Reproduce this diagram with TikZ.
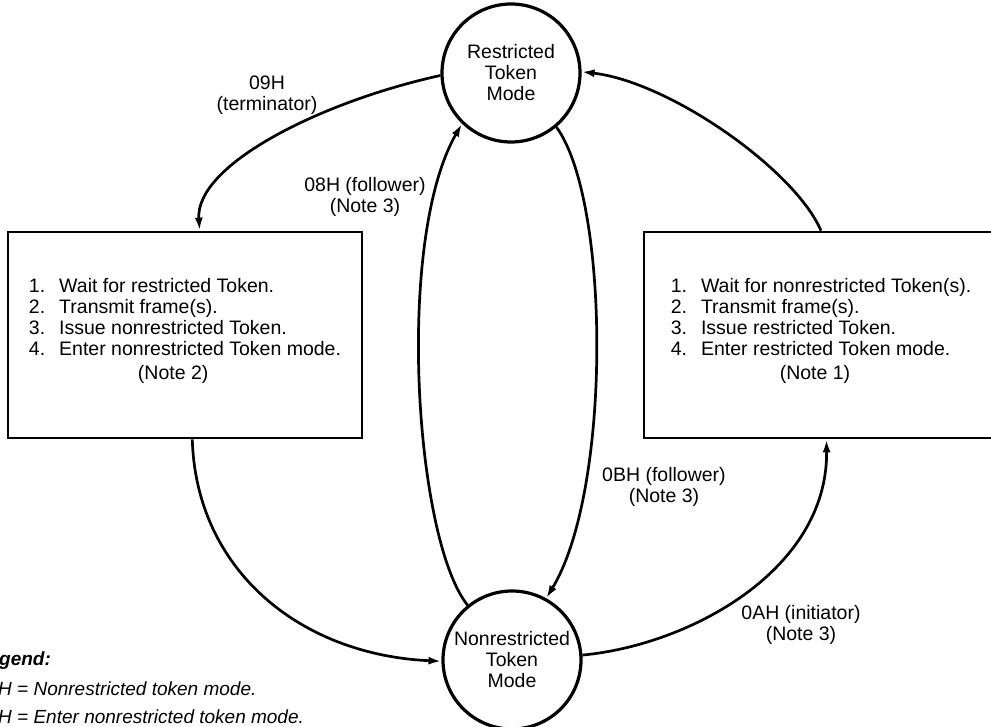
\documentclass[tikz,border=0pt]{standalone}
\usepackage{fontspec}
\setmainfont{Liberation Sans}
\usetikzlibrary{arrows.meta}

\begin{document}
\begin{tikzpicture}[x=1pt,y=-1pt,every node/.style={font=\fontsize{19.5}{21}\selectfont},
  modecircle/.style={draw,circle,line width=3.2pt,minimum size=138pt,inner sep=0pt,align=center},
  notebox/.style={draw,rectangle,line width=2.7pt,minimum width=354pt,minimum height=206pt,inner sep=0pt},
  lbl/.style={align=center,inner sep=1pt},
  tr/.style={-{Latex[length=13pt,width=8pt]},line width=2.7pt},
  legendline/.style={anchor=base west,inner sep=0pt,font=\fontsize{19}{21}\selectfont\itshape}]
\useasboundingbox (0,0) rectangle (991,727);
\node[modecircle] (rtm) at (511,73) {Restricted\\Token\\Mode};
\node[modecircle] (ntm) at (512,660) {Nonrestricted\\Token\\Mode};
\node[notebox] (lbox) at (185,335) {\begin{tabular}{@{}l@{\hspace{14pt}}l@{}}
1. & Wait for restricted Token.\\
2. & Transmit frame(s).\\
3. & Issue nonrestricted Token.\\
4. & Enter nonrestricted Token mode.\\[3pt]
\multicolumn{2}{@{}l@{}}{\hspace*{109pt}(Note 2)}\\[7pt]
\end{tabular}};
\node[notebox] (rbox) at (821,335) {\begin{tabular}{@{}l@{\hspace{14pt}}l@{}}
1. & Wait for nonrestricted Token(s).\\
2. & Transmit frame(s).\\
3. & Issue restricted Token.\\
4. & Enter restricted Token mode.\\[3pt]
\multicolumn{2}{@{}l@{}}{\hspace*{109pt}(Note 1)}\\[7pt]
\end{tabular}};
\node[lbl] (lbl09) at (267,95) {09H\\(terminator)};
\node[lbl] (lbl08) at (365,197) {08H (follower)\\(Note 3)};
\node[lbl] (lbl0b) at (664,487) {0BH (follower)\\(Note 3)};
\node[lbl] (lbl0a) at (801,625) {0AH (initiator)\\(Note 3)};
\draw[tr] (rtm.182) .. controls (320,102) and (195,165) .. (lbox.82);
\draw[tr] (rbox.north) .. controls (795,170) and (670,82) .. (rtm.1);
\draw[tr] (ntm.129) .. controls (415,540) and (395,240) .. (rtm.226);
\draw[tr] (rtm.310) .. controls (610,200) and (612,490) .. (ntm.61);
\draw[tr] (lbox.274) .. controls (196,570) and (300,655) .. (ntm.181);
\draw[tr] (ntm.4) .. controls (690,645) and (828,570) .. (rbox.273);
% legend, cut at the left edge
\node[legendline,font=\fontsize{19}{21}\selectfont\bfseries\itshape] (lgd) at (-1,665) {gend:};
\node[legendline] (lgda) at (-2,695) {H = Nonrestricted token mode.};
\node[legendline] (lgdb) at (-2,723) {H = Enter nonrestricted token mode.};
\end{tikzpicture}
\end{document}
